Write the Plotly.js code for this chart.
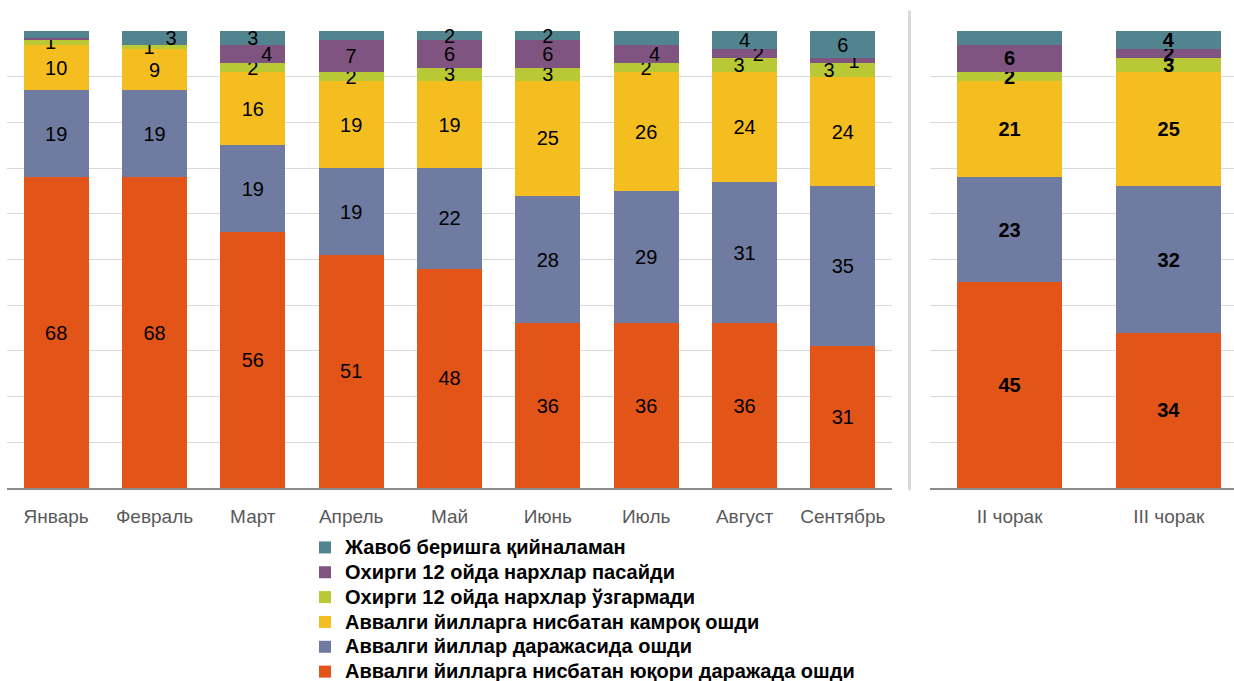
<!DOCTYPE html>
<html>
<head>
<meta charset="utf-8">
<script src="https://cdn.plot.ly/plotly-3.0.1.min.js"></script>
<style>html,body{margin:0;padding:0;background:#fff}#chart{width:1234px;height:681px}</style>
</head>
<body>
<div id="chart"></div>
<script>
// Categories
const months = ['Январь','Февраль','Март','Апрель','Май','Июнь','Июль','Август','Сентябрь'];
const quarters = ['II чорак','III чорак'];

// Series names (bottom to top)
const seriesNames = [
  'Аввалги йилларга нисбатан юқори даражада ошди',
  'Аввалги йиллар даражасида ошди',
  'Аввалги йилларга нисбатан камроқ ошди',
  'Охирги 12 ойда нархлар ўзгармади',
  'Охирги 12 ойда нархлар пасайди',
  'Жавоб беришга қийналаман'
];

// Monthly values (%), bottom to top
const highMonthly      = [68, 68, 56, 51, 48, 36, 36, 36, 31];
const sameMonthly      = [19, 19, 19, 19, 22, 28, 29, 31, 35];
const lessMonthly      = [10,  9, 16, 19, 19, 25, 26, 24, 24];
const unchangedMonthly = [ 1,  1,  2,  2,  3,  3,  2,  3,  3];
const decreasedMonthly = [0.5, 0,  4,  7,  6,  6,  4,  2,  1];
const dontKnowMonthly  = [1.5, 3,  3,  3,  2,  2,  4,  4,  6];

// Quarterly values (%)
const highQuarterly      = [45, 34];
const sameQuarterly      = [23, 32];
const lessQuarterly      = [21, 25];
const unchangedQuarterly = [ 2,  3];
const decreasedQuarterly = [ 6,  2];
const dontKnowQuarterly  = [ 3,  4];

// Segments without a data label in the reference: [seriesIndex, category]
const unlabeled = [[4,'Январь'],[5,'Январь'],[4,'Февраль'],[5,'II чорак']];

// Style: horizontal nudges of crowded small labels (in non-breaking-space units)
const labelNudge = {'5|Февраль':6, '4|Март':5, '4|Июль':3, '4|Август':5, '3|Август':-2,
  '4|Сентябрь':4, '3|Сентябрь':-5, '3|Январь':-2, '3|Февраль':-2};

const colors = ['#E25417','#6F7BA0','#F5BE20','#B9C835','#7F5480','#52848F'];

const monthly = [highMonthly, sameMonthly, lessMonthly, unchangedMonthly, decreasedMonthly, dontKnowMonthly];
const quarterly = [highQuarterly, sameQuarterly, lessQuarterly, unchangedQuarterly, decreasedQuarterly, dontKnowQuarterly];

function labels(si, cats, vals){
  return vals.map((v,i)=>{
    if (unlabeled.some(u=>u[0]===si && u[1]===cats[i])) return '';
    let s = String(Math.round(v));
    const n = labelNudge[si+'|'+cats[i]] || 0;
    const pad = '\u00a0'.repeat(Math.abs(n));
    return n > 0 ? pad + s : s + pad;
  });
}

const traces = [];
seriesNames.forEach((name, si)=>{
  traces.push({
    type:'bar', x: months, y: monthly[si], xaxis:'x', yaxis:'y',
    name: '<span style="font-size:20px">'+name+'</span>', legendrank: 100 - si,
    marker:{color:colors[si], line:{width:0}},
    text: labels(si, months, monthly[si]), textposition:'inside', insidetextanchor:'middle',
    textangle:0, cliponaxis:false,
    textfont:{size:20, color:'#000'}, hoverinfo:'x+y'
  });
});
seriesNames.forEach((name, si)=>{
  traces.push({
    type:'bar', x: quarters, y: quarterly[si], xaxis:'x2', yaxis:'y2',
    name: name, showlegend:false,
    marker:{color:colors[si], line:{width:0}},
    text: labels(si, quarters, quarterly[si]), textposition:'inside', insidetextanchor:'middle',
    textangle:0, cliponaxis:false,
    textfont:{size:20, color:'#000', weight:'bold'}, hoverinfo:'x+y'
  });
});

const yax = {range:[0,100], dtick:10, showgrid:true, gridcolor:'#d9d9d9', gridwidth:1,
  showticklabels:false, zeroline:false, showline:false, ticks:''};
const xax = {type:'category', showline:true, linecolor:'#8c8c8c', linewidth:2, ticks:'',
  showgrid:false, zeroline:false, tickfont:{size:19, color:'#595959'}, ticklabelstandoff:10};

const layout = {
  width:1234, height:681,
  margin:{l:0, r:0, t:31, b:193, autoexpand:false},
  paper_bgcolor:'#fff', plot_bgcolor:'#fff',
  font:{family:'"Liberation Sans", Arial, sans-serif', color:'#000'},
  barmode:'stack', bargap:0.34,
  uniformtext:{mode:'show', minsize:20},
  xaxis: Object.assign({}, xax, {domain:[7/1234, 892/1234], range:[-0.5, 8.5]}),
  yaxis: Object.assign({}, yax, {anchor:'x'}),
  xaxis2: Object.assign({}, xax, {domain:[930/1234, 1], range:[-0.5, 1.41], anchor:'y2'}),
  yaxis2: Object.assign({}, yax, {anchor:'x2'}),
  showlegend:true,
  legend:{orientation:'v', x:305/1234, xanchor:'left', y:-0.0919, yanchor:'top',
    traceorder:'normal',
    font:{size:16.8, color:'#000', weight:'bold'}, bgcolor:'rgba(0,0,0,0)'},
  shapes:[{type:'line', xref:'paper', yref:'paper', x0:909.5/1234, x1:909.5/1234,
    y0:-0.005, y1:1.045, line:{color:'#d9d9d9', width:3}}]
};

Plotly.newPlot('chart', traces, layout, {displayModeBar:false, staticPlot:true});
</script>
</body>
</html>
